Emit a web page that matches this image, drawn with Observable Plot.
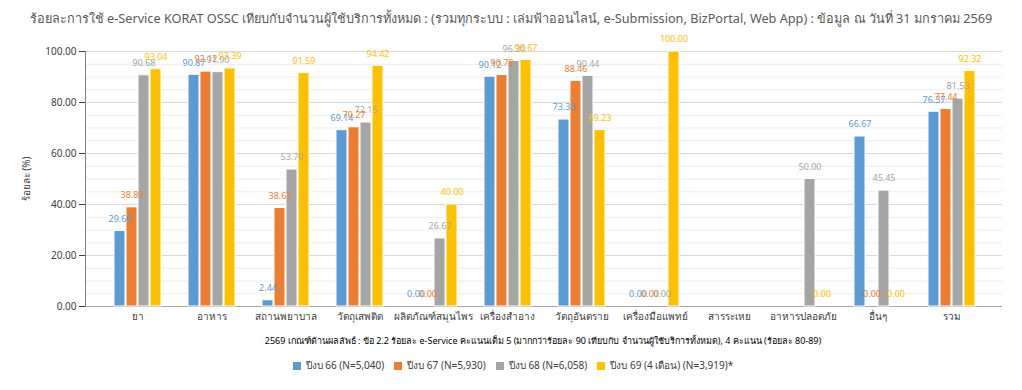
<!DOCTYPE html>
<html>
<head>
<meta charset="utf-8">
<script src="https://cdn.jsdelivr.net/npm/d3@7"></script>
<script src="https://cdn.jsdelivr.net/npm/@observablehq/plot@0.6"></script>
<style>
  body { margin: 0; background: #fff; font-family: "Noto Sans", "DejaVu Sans", sans-serif; }
  #title { height: 36px; line-height: 36px; text-align: center; font-size: 12.7px; color: #595959; white-space: nowrap; }
  #chart { position: relative; width: 1022px; height: 294px; }
  #chart svg { position: absolute; left: 0; top: 0; }
  #caption { text-align: center; font-size: 9px; color: #000; padding-left: 64px; margin-top: 4px; height: 15px; }
  #legend { display: flex; justify-content: center; padding-left: 14px; }
</style>
</head>
<body>
<div id="title">ร้อยละการใช้ e-Service KORAT OSSC เทียบกับจำนวนผู้ใช้บริการทั้งหมด : (รวมทุกระบบ : เล่มฟ้าออนไลน์, e-Submission, BizPortal, Web App) : ข้อมูล ณ วันที่ 31 มกราคม 2569</div>
<div id="chart"></div>
<div id="caption">2569 เกณฑ์ด้านผลลัพธ์ : ข้อ 2.2 ร้อยละ e-Service คะแนนเต็ม 5 (มากกว่าร้อยละ 90 เทียบกับ จำนวนผู้ใช้บริการทั้งหมด), 4 คะแนน (ร้อยละ 80-89)</div>
<div id="legend"></div>
<script>
const categories = ["ยา", "อาหาร", "สถานพยาบาล", "วัตถุเสพติด", "ผลิตภัณฑ์สมุนไพร", "เครื่องสำอาง", "วัตถุอันตราย", "เครื่องมือแพทย์", "สารระเหย", "อาหารปลอดภัย", "อื่นๆ", "รวม"];
const series = ["ปีงบ 66 (N=5,040)", "ปีงบ 67 (N=5,930)", "ปีงบ 68 (N=6,058)", "ปีงบ 69 (4 เดือน) (N=3,919)*"];
const fy66 = [29.60, 90.87, 2.44, 69.14, 0.00, 90.12, 73.33, 0.00, null, null, 66.67, 76.37];
const fy67 = [38.89, 92.12, 38.63, 70.27, 0.00, 90.78, 88.46, 0.00, null, null, 0.00, 77.44];
const fy68 = [90.68, 91.90, 53.70, 72.15, 26.67, 96.30, 90.44, 0.00, null, 50.00, 45.45, 81.53];
const fy69 = [93.04, 93.39, 91.59, 94.42, 40.00, 96.67, 69.23, 100.00, null, 0.00, 0.00, 92.32];
const yTicks = [0, 20, 40, 60, 80, 100];
const yMinor = d3.range(0, 101, 5);
const colors = ["#5B9BD5", "#ED7D31", "#A5A5A5", "#FFC000"];

const valuesBySeries = [fy66, fy67, fy68, fy69];
const data = categories.flatMap((c, i) => series.map((s, j) => ({category: c, series: s, value: valuesBySeries[j][i]})))
  .filter(d => d.value != null);

const fontStyle = {fontFamily: "'Noto Sans', 'DejaVu Sans', sans-serif", fontSize: "10px", color: "#404040", background: "transparent", overflow: "visible"};
const dims = {width: 1022, height: 294, marginLeft: 85, marginRight: 20, marginTop: 15, marginBottom: 24};

// Background: gridlines and y axis spanning the whole plot area
const back = Plot.plot({
  ...dims,
  style: fontStyle,
  y: {domain: [0, 100], label: null},
  marks: [
    Plot.gridY(yMinor, {stroke: "#ececec", strokeOpacity: 1}),
    Plot.gridY(yTicks, {stroke: "#d9d9d9", strokeOpacity: 1}),
    Plot.axisY(yTicks, {tickFormat: d3.format(".2f"), tickSize: 6, tickPadding: 3, fontSize: 10, label: "ร้อยละ (%)", labelAnchor: "center", labelArrow: "none", labelOffset: 63}),
    Plot.ruleY([0], {stroke: "#a6a6a6"}),
    Plot.frame({anchor: "left", stroke: "#7f7f7f"})
  ]
});

// Foreground: grouped bars, faceted by category
const front = Plot.plot({
  ...dims,
  style: fontStyle,
  fx: {domain: categories, paddingInner: 0, paddingOuter: 0.16, label: null},
  x: {domain: series, paddingInner: 0.12, paddingOuter: 1.08, axis: null},
  y: {domain: [0, 100], axis: null},
  color: {domain: series, range: colors},
  marks: [
    Plot.axisFx({anchor: "bottom", tickSize: 0, tickPadding: 6, fontSize: 10, label: null}),
    Plot.barY(data, {fx: "category", x: "series", y: "value", fill: "series", stroke: "white", strokeWidth: 1}),
    Plot.text(data, {fx: "category", x: "series", y: "value", text: d => d3.format(".2f")(d.value), fill: "series", dy: -12, fontSize: 9})
  ]
});
const chartDiv = document.getElementById("chart");
chartDiv.appendChild(back);
chartDiv.appendChild(front);

const legend = Plot.legend({color: {domain: series, range: colors}, swatchSize: 8, style: {fontFamily: "'Noto Sans', 'DejaVu Sans', sans-serif", fontSize: "10px", color: "#404040"}});
document.getElementById("legend").appendChild(legend);
</script>
</body>
</html>
